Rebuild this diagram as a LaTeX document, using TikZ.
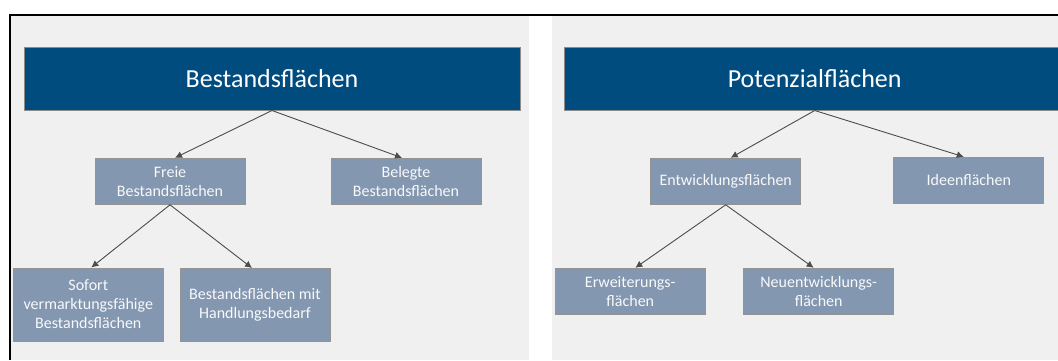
\documentclass[tikz,border=0pt]{standalone}
\usepackage{fontspec}
\setmainfont{Carlito}
\usetikzlibrary{arrows.meta}
\tikzset{>={Latex[length=7pt,width=7pt]}}
\definecolor{hdrblue}{HTML}{004C7F}
\definecolor{boxfill}{HTML}{8497B0}
\definecolor{panel}{HTML}{F0F0F0}
\tikzstyle{header}=[rectangle,draw=gray!90,fill=hdrblue,text=white,line width=1pt,minimum height=63pt,font=\fontsize{26}{30}\selectfont]
\tikzstyle{flaeche}=[rectangle,draw=gray!85,fill=boxfill,text=white!94!boxfill,line width=1pt,minimum width=150pt,minimum height=46pt,align=center,font=\fontsize{16}{19}\selectfont]
\tikzstyle{pfeil}=[->,draw=black!70,line width=0.9pt]

\begin{document}
\begin{tikzpicture}[x=1pt,y=-1pt,inner sep=1mm]
\def \lev {181.3};
\def \low {291.3};

\useasboundingbox (0,0) rectangle (1058,360);
\clip (0,0) rectangle (1058,360);

% panels and frame
\fill[panel] (11,16) rectangle (529,360);
\fill[panel] (552,16) rectangle (1058,360);
\draw[line width=2pt] (9.5,360) -- (9.5,15) -- (1058,15);

% left: Bestand
\node[header,minimum width=496pt] (hdrL) at (272,78.5) {Bestandsflächen};
\node[flaeche] (frei) at (170,\lev) {Freie\\Bestandsflächen};
\node[flaeche] (belegt) at (406,\lev) {Belegte\\Bestandsflächen};
\node[flaeche,minimum height=73pt] (sofort) at (88.3,304.5) {Sofort\\vermarktungsfähige\\Bestandsflächen};
\node[flaeche,minimum height=73pt] (handl) at (255,305) {Bestandsflächen mit\\Handlungsbedarf};

% right: Potenzial
\node[header,minimum width=500pt] (hdrR) at (814.7,78.5) {Potenzialflächen};
\node[flaeche] (entw) at (725.7,\lev) {Entwicklungsflächen};
\node[flaeche] (ideen) at (968.8,180.3) {Ideenflächen};
\node[flaeche] (erw) at (630.3,\low) {Erweiterungs-\\flächen};
\node[flaeche] (neu) at (818.7,\low) {Neuentwicklungs-\\flächen};

\foreach \von/\nach/\s in {hdrL/frei/5,hdrL/belegt/-4,frei/sofort/3,frei/handl/-3,hdrR/entw/5,hdrR/ideen/-5,entw/erw/5,entw/neu/-5} {
	\draw[pfeil] (\von.south) -- ([xshift=\s pt]\nach.north);
};

\end{tikzpicture}
\end{document}
